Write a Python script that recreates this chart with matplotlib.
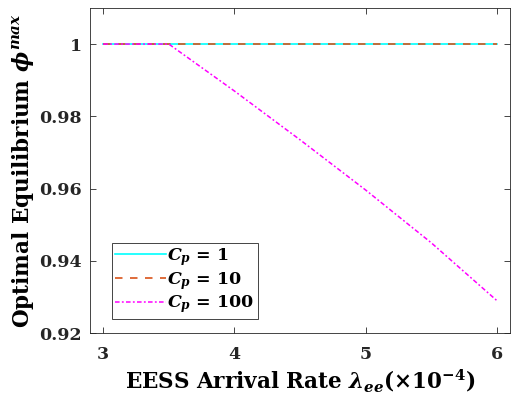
import matplotlib
matplotlib.use('Agg')
import matplotlib.pyplot as plt

plt.rcParams['font.family'] = 'DejaVu Serif'
plt.rcParams['font.weight'] = 'bold'
plt.rcParams['axes.labelweight'] = 'bold'
plt.rcParams['mathtext.fontset'] = 'custom'
plt.rcParams['mathtext.rm'] = 'DejaVu Serif:bold'
plt.rcParams['mathtext.bf'] = 'DejaVu Serif:bold'
plt.rcParams['mathtext.it'] = 'DejaVu Serif:italic:bold'
plt.rcParams['axes.unicode_minus'] = False

# data
lam = [3.0, 3.5, 4.0, 4.5, 5.0, 5.5, 6.0]
phi_cp1 = [1, 1, 1, 1, 1, 1, 1]
phi_cp10 = [1, 1, 1, 1, 1, 1, 1]
phi_cp100 = [1.0, 1.0, 0.987, 0.9735, 0.9596, 0.945, 0.929]

xticks = [3, 4, 5, 6]
yticks = [0.92, 0.94, 0.96, 0.98, 1.0]
ytick_labels = ['0.92', '0.94', '0.96', '0.98', '1']

fig = plt.figure(figsize=(5.12, 3.97), dpi=100)
ax = fig.add_axes([0.176, 0.161, 0.82, 0.819])

ax.plot(lam, phi_cp1, color=(0, 1, 1), linestyle='-', linewidth=1.2,
        label=r'$C_p$ = 1')
ax.plot(lam, phi_cp10, color=(0.85, 0.325, 0.098), linestyle=(0, (4.5, 4.5)), linewidth=1.2,
        label=r'$C_p$ = 10')
ax.plot(lam, phi_cp100, color=(1, 0, 1), linestyle=(0, (3, 1.5, 1.2, 1.5)), linewidth=1.1,
        label=r'$C_p$ = 100')

ax.set_xlim(2.9, 6.1)
ax.set_ylim(0.92, 1.01)
ax.set_xticks(xticks)
ax.set_xticklabels([str(t) for t in xticks])
ax.set_yticks(yticks)
ax.set_yticklabels(ytick_labels)
ax.tick_params(axis='both', direction='in', length=4, width=0.6, top=True, right=True,
               labelsize=12.5, colors='#262626')
ax.tick_params(axis='x', pad=9)
ax.tick_params(axis='y', pad=6)
for s in ax.spines.values():
    s.set_linewidth(0.6)
    s.set_color('#262626')

ax.set_xlabel(r'EESS Arrival Rate $\lambda_{ee}$($\times$10$^{-4}$)', fontsize=15.5,
              fontweight='bold', labelpad=3)
ax.set_ylabel(r'Optimal Equilibrium $\phi^{max}$', fontsize=15.5,
              fontweight='bold', labelpad=2)

leg = ax.legend(loc='lower left', bbox_to_anchor=(0.052, 0.044), borderaxespad=0,
                fontsize=12.5, fancybox=False, framealpha=1, edgecolor='#262626',
                handlelength=2.9, handletextpad=0.1, borderpad=0.2, labelspacing=0.1)
leg.get_frame().set_linewidth(0.6)

fig.savefig('out.png', dpi=100)
